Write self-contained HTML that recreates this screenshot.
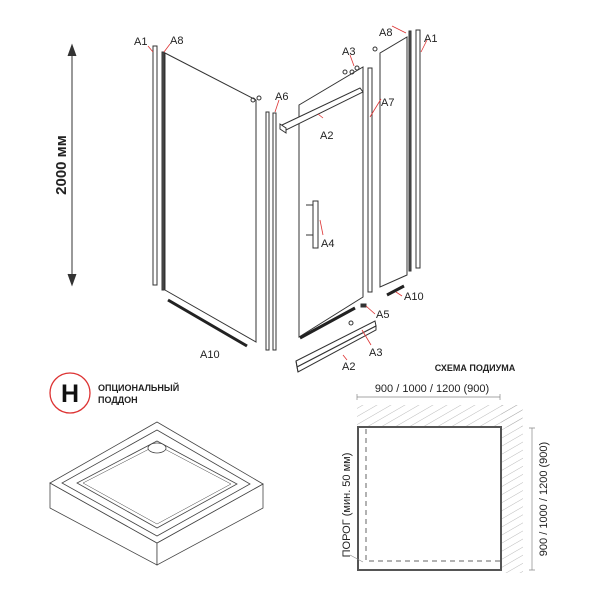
<!DOCTYPE html>
<html><head><meta charset="utf-8"><style>
html,body{margin:0;padding:0;background:#fff;width:600px;height:600px;overflow:hidden}
text{font-family:"Liberation Sans Narrow","Liberation Sans",sans-serif;fill:#222}
</style></head><body>
<svg width="600" height="600" viewBox="0 0 600 600" xmlns="http://www.w3.org/2000/svg">
<defs>
<pattern id="h" width="7" height="7" patternUnits="userSpaceOnUse" patternTransform="rotate(-30)">
<line x1="0" y1="0" x2="7" y2="0" stroke="#aaa" stroke-width="0.8"/></pattern>
</defs>
<g fill="none" stroke="#333" stroke-width="1">
<line x1="72" y1="48" x2="72" y2="282"/>
<path d="M68,56 L72,45 L76,56 M68,274 L72,285 L76,274" fill="#333"/>
<rect x="153" y="46" width="4" height="239" fill="#fff"/>
<rect x="162" y="52" width="2" height="238" fill="#555"/>
<polygon points="165,53 256,100 256,342 165,290" fill="#fff"/>
<line x1="168" y1="300" x2="247" y2="346" stroke="#222" stroke-width="3"/>
<rect x="266" y="112" width="3" height="238"/>
<rect x="273" y="113" width="3" height="237"/>
<polygon points="299,105 363,67 363,297 299,337" fill="#fff"/>
<polygon points="282,125 360,88 363,92 286,130" fill="#fff"/>
<polygon points="280,124 286,128 286,133 280,129" fill="#fff"/>
<rect x="313" y="201" width="5" height="47" fill="#fff"/>
<line x1="306" y1="205" x2="313" y2="205"/><line x1="306" y1="235" x2="313" y2="235"/>
<line x1="300" y1="338" x2="355" y2="308" stroke="#222" stroke-width="3"/>
<rect x="361" y="304" width="5" height="3" fill="#333"/>
<rect x="368" y="68" width="4" height="224"/>
<polygon points="380,53 407,37 407,275 380,287" fill="#fff"/>
<line x1="387" y1="295" x2="404" y2="286" stroke="#222" stroke-width="3"/>
<rect x="409" y="31" width="2" height="240" fill="#555"/>
<rect x="416" y="30" width="4" height="238" fill="#fff"/>
<polygon points="296,361 375,321 376,326 297,367" fill="#fff"/>
<polygon points="297,367 376,326 376,330 298,372" fill="#fff"/>
<line x1="296" y1="361" x2="298" y2="372"/>
<circle cx="345" cy="72" r="2"/><circle cx="352" cy="72" r="2"/><circle cx="357" cy="68" r="2"/>
<circle cx="375" cy="49" r="2"/><circle cx="253" cy="100" r="2"/><circle cx="259" cy="98" r="2"/>
<circle cx="351" cy="323" r="2"/>
</g>
<g stroke="#d33" stroke-width="0.8" fill="none">
<line x1="148" y1="46" x2="153" y2="52"/><line x1="170" y1="44" x2="164" y2="52"/>
<line x1="279" y1="100" x2="275" y2="112"/><line x1="323" y1="118" x2="318" y2="114"/>
<line x1="350" y1="55" x2="354" y2="66"/><line x1="381" y1="99" x2="370" y2="117"/>
<line x1="392" y1="26" x2="406" y2="33"/><line x1="427" y1="40" x2="421" y2="52"/>
<line x1="323" y1="235" x2="320" y2="220"/>
<line x1="402" y1="296" x2="396" y2="292"/><line x1="375" y1="314" x2="366" y2="306"/>
<line x1="371" y1="345" x2="362" y2="330"/><line x1="347" y1="360" x2="343" y2="355"/>
</g>
<g font-size="11">
<text x="134" y="45">A1</text><text x="170" y="44">A8</text>
<text x="275" y="100">A6</text><text x="320" y="139">A2</text>
<text x="342" y="55">A3</text><text x="381" y="106">A7</text>
<text x="379" y="36">A8</text><text x="424" y="42">A1</text>
<text x="321" y="247">A4</text><text x="200" y="358">A10</text>
<text x="404" y="300">A10</text><text x="376" y="318">A5</text>
<text x="369" y="356">A3</text><text x="342" y="370">A2</text>
</g>
<text x="0" y="0" font-size="15" font-weight="bold" text-anchor="middle" transform="translate(66,165) rotate(-90)" style="font-family:'Liberation Sans',sans-serif">2000 мм</text>
<circle cx="70" cy="393" r="20" fill="#fff" stroke="#d33" stroke-width="1.3"/>
<text x="70" y="402" font-size="25" font-weight="bold" text-anchor="middle" style="font-family:'Liberation Sans',sans-serif;fill:#111">H</text>
<text x="98" y="391" font-size="9" font-weight="bold">ОПЦИОНАЛЬНЫЙ</text>
<text x="98" y="403" font-size="9" font-weight="bold">ПОДДОН</text>
<g fill="#fff" stroke="#444" stroke-width="0.8">
<polygon points="50,483 157,543 157,565 50,508"/>
<polygon points="157,543 263,484 263,508 157,565"/>
<polygon points="157,422 263,484 157,543 50,483"/>
<polygon points="157,430 250,484 157,536 62,483"/>
<polygon points="157,441 237,484 157,528 77,483" />
<polygon points="157,445 231,484 157,524 83,483" stroke-width="0.5"/>
<ellipse cx="157" cy="448" rx="9" ry="5"/>
</g>
<text x="475" y="371" font-size="9" font-weight="bold" text-anchor="middle">СХЕМА ПОДИУМА</text>
<text x="432" y="392" font-size="11" text-anchor="middle">900 / 1000 / 1200 (900)</text>
<path d="M357,397 H500 M357,394 V400 M500,394 V400" stroke="#888" stroke-width="0.7" fill="none"/>
<rect x="357" y="405" width="165" height="22" fill="url(#h)"/>
<rect x="501" y="405" width="22" height="168" fill="url(#h)"/>
<rect x="358" y="427" width="143" height="143" fill="#fff" stroke="#555" stroke-width="2"/>
<path d="M366,429 V561 H500" fill="none" stroke="#666" stroke-dasharray="5,4"/>
<path d="M532,428 V570 M529,428 H535 M529,570 H535" stroke="#888" stroke-width="0.7" fill="none"/>
<text x="0" y="0" font-size="11" text-anchor="middle" transform="translate(547,499) rotate(-90)">900 / 1000 / 1200 (900)</text>
<text x="0" y="0" font-size="11" text-anchor="middle" transform="translate(350,505) rotate(-90)">ПОРОГ (мин. 50 мм)</text>
<path d="M350,555 L363,562" stroke="#888" stroke-width="0.6" fill="none"/>
</svg>
</body></html>
